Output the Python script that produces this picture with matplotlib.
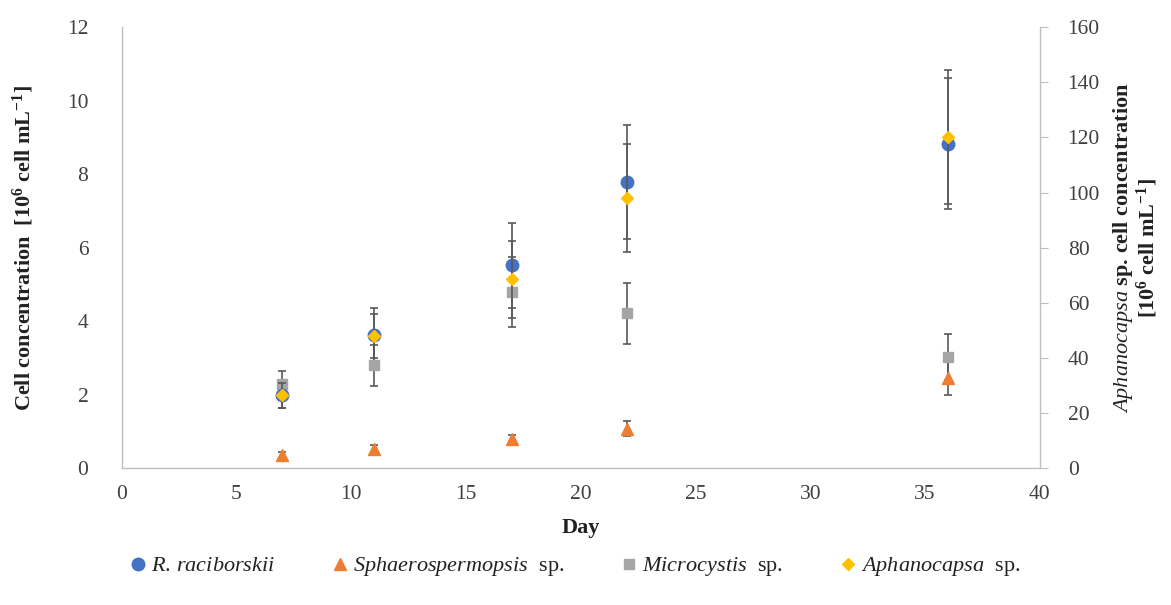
import matplotlib
matplotlib.use("Agg")
import matplotlib.pyplot as plt
from matplotlib.lines import Line2D

plt.rcParams['font.family'] = ['Liberation Serif', 'DejaVu Serif']
plt.rcParams['mathtext.fontset'] = 'custom'
plt.rcParams['mathtext.rm'] = 'Liberation Serif'
plt.rcParams['mathtext.it'] = 'Liberation Serif:italic'
plt.rcParams['mathtext.bf'] = 'Liberation Serif:bold'

days = [7, 11, 17, 22, 36]

# left axis series
rac = [2.0, 3.62, 5.52, 7.79, 8.83]
rac_err = [0.35, 0.75, 1.15, 1.55, 1.78]
sph = [0.37, 0.52, 0.8, 1.08, 2.45]
sph_err = [0.08, 0.1, 0.1, 0.2, 0.46]
mic = [2.3, 2.8, 4.8, 4.22, 3.03]
mic_err = [0.35, 0.55, 0.95, 0.83, 0.62]

# right axis series
aph = [26.5, 48.0, 68.5, 97.9, 120.2]
aph_err = [4.5, 8.0, 14.0, 19.6, 24.4]

c_rac = '#4472C4'
c_sph = '#ED7D31'
c_mic = '#A5A5A5'
c_aph = '#FFC000'
c_err = '#595959'
c_spine = '#BFBFBF'
c_text = '#404040'

fig = plt.figure(figsize=(11.71, 6.05), dpi=100)
ax = fig.add_axes([0.104, 0.226, 0.784, 0.729])
ax2 = ax.twinx()

ekw = dict(ecolor=c_err, elinewidth=1.2, capsize=3, capthick=1.2, linestyle='none')
ax.errorbar(days, mic, yerr=mic_err, marker='s', ms=7, color=c_mic, **ekw)
ax.errorbar(days, sph, yerr=sph_err, marker='^', ms=8, color=c_sph, **ekw)
ax.errorbar(days, rac, yerr=rac_err, marker='o', ms=9, color=c_rac, **ekw)
ax2.errorbar(days, aph, yerr=aph_err, marker='D', ms=6, color=c_aph, **ekw)

ax.set_xlim(0, 40)
ax.set_ylim(0, 12)
ax2.set_ylim(0, 160)
ax.set_xticks(range(0, 41, 5))
ax.set_yticks(range(0, 13, 2))
ax2.set_yticks(range(0, 161, 20))

for a in (ax, ax2):
    a.spines['top'].set_visible(False)
    for s in ('left', 'right', 'bottom'):
        a.spines[s].set_color(c_spine)
        a.spines[s].set_linewidth(1.0)
ax.spines['right'].set_visible(False)
ax2.spines['left'].set_visible(False)
ax2.spines['bottom'].set_visible(False)

ax.tick_params(axis='both', length=0, labelsize=15.5, labelcolor=c_text)
ax.tick_params(axis='x', pad=12)
ax.tick_params(axis='y', pad=24)
ax2.tick_params(axis='y', length=6, color=c_spine, labelsize=15.5, labelcolor=c_text,
                pad=14, direction='out')

ax.set_xlabel('Day', fontsize=16, fontweight='bold', color='#222222', labelpad=10)
ax.set_ylabel(r'Cell concentration  [10$^\mathbf{6}$ cell mL$^\mathbf{-1}$]',
              fontsize=16, fontweight='bold', color='#222222', labelpad=22)
ax2.set_ylabel(r'$\mathit{Aphanocapsa}$ sp. cell concentration' + '\n' +
               r'[10$^\mathbf{6}$ cell mL$^\mathbf{-1}$]',
               fontsize=16, fontweight='bold', color='#222222', labelpad=8,
               rotation=90, linespacing=1.0)

handles = [
    Line2D([], [], marker='o', ms=9, color=c_rac, linestyle='none'),
    Line2D([], [], marker='^', ms=8, color=c_sph, linestyle='none'),
    Line2D([], [], marker='s', ms=7, color=c_mic, linestyle='none'),
    Line2D([], [], marker='D', ms=6, color=c_aph, linestyle='none'),
]
labels = [
    r'$\mathit{R.\,raciborskii}$',
    r'$\mathit{Sphaerospermopsis}$  sp.',
    r'$\mathit{Microcystis}$  sp.',
    r'$\mathit{Aphanocapsa}$  sp.',
]
fig.legend(handles, labels, loc='center', bbox_to_anchor=(0.49, 0.063), ncol=4,
           frameon=False, fontsize=16, handletextpad=0.1, columnspacing=2.4,
           handlelength=1.0, labelcolor='#222222')

fig.savefig('out.png', dpi=100)
